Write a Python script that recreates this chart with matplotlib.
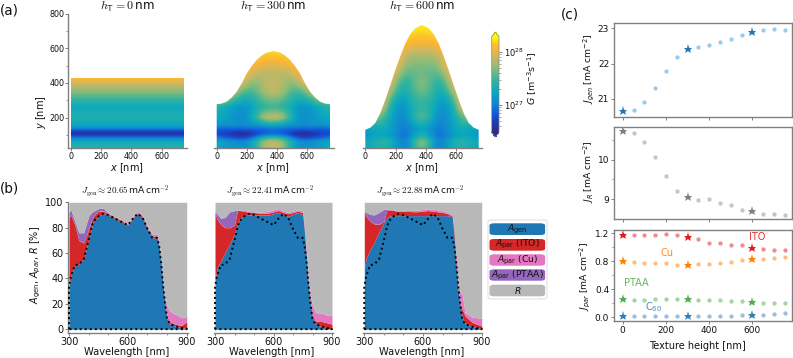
import numpy as np
import matplotlib
matplotlib.use("Agg")
import matplotlib.pyplot as plt
from matplotlib.colors import LinearSegmentedColormap, LogNorm
from matplotlib.cm import ScalarMappable
from matplotlib.patches import Polygon, FancyBboxPatch
from matplotlib.ticker import MultipleLocator, FixedLocator

W_PX, H_PX = 793, 358

# ---------- (a) generation maps: log10(G), bottom row first, x = 0..375 (mirror image to 750)
surface_x = [0, 33, 66, 99, 132, 166, 199, 232, 265, 298, 331, 375]
surface_300 = [277, 281, 292, 316, 349, 398, 455, 497, 533, 558, 575, 584]
surface_600 = [130, 142, 169, 226, 302, 388, 475, 555, 628, 682, 715, 734]
flat_top = 428

flat_y = [25, 60, 85, 100, 110, 120, 135, 160, 200, 260, 300, 350, 400, 428]
flat_G = [27.4, 27.3, 27.0, 26.65, 26.5, 26.68, 27.02, 27.25, 27.36, 27.25, 27.45, 27.7, 27.95, 28.12]

tex300_x = [0, 60, 120, 170, 220, 270, 320, 375]
tex300_y = [25, 60, 85, 105, 135, 160, 200, 260, 300, 350, 400, 450, 500, 550, 600]
tex300_G = [
    [27.25, 27.15, 27.1, 27.05, 27.15, 27.45, 27.8, 27.9],
    [27.25, 27.2, 27.1, 27.05, 27.15, 27.45, 27.8, 27.9],
    [27.0, 26.85, 26.8, 26.75, 26.85, 27.1, 27.4, 27.5],
    [26.72, 26.68, 26.52, 26.42, 26.52, 26.72, 26.85, 26.9],
    [26.9, 26.85, 26.9, 26.9, 26.9, 26.9, 26.9, 26.95],
    [27.15, 27.12, 27.1, 27.05, 27.1, 27.15, 27.25, 27.35],
    [27.28, 27.2, 27.1, 27.05, 27.15, 27.5, 27.85, 27.9],
    [27.4, 27.3, 27.15, 27.1, 27.15, 27.35, 27.45, 27.5],
    [27.7, 27.75, 27.45, 27.3, 27.3, 27.45, 27.6, 27.65],
    [28.0, 28.05, 27.9, 27.6, 27.5, 27.6, 27.8, 27.9],
    [28.1, 28.1, 28.1, 28.0, 27.75, 27.7, 27.85, 27.9],
    [28.1, 28.1, 28.1, 28.1, 28.0, 27.85, 27.85, 27.85],
    [28.1, 28.1, 28.1, 28.1, 28.1, 28.05, 28.0, 27.98],
    [28.2, 28.2, 28.2, 28.2, 28.2, 28.2, 28.12, 28.14],
    [28.29, 28.29, 28.29, 28.29, 28.29, 28.29, 28.29, 28.29],
]

tex600_x = [0, 60, 120, 170, 215, 265, 300, 335, 375]
tex600_y = [25, 60, 100, 135, 160, 200, 260, 300, 350, 400, 450, 500, 550, 600, 650, 700, 750]
tex600_G = [
    [27.25, 27.3, 27.4, 27.3, 27.1, 26.95, 27.15, 27.5, 27.65],
    [27.25, 27.35, 27.45, 27.35, 27.12, 26.98, 27.2, 27.55, 27.75],
    [27.1, 27.2, 27.25, 27.15, 27.0, 26.9, 27.05, 27.25, 27.4],
    [27.2, 27.25, 27.3, 27.2, 27.05, 26.95, 27.05, 27.15, 27.25],
    [27.35, 27.4, 27.4, 27.2, 27.05, 26.98, 27.12, 27.25, 27.35],
    [27.6, 27.8, 27.5, 27.25, 27.08, 27.02, 27.25, 27.45, 27.6],
    [27.9, 28.0, 27.95, 27.3, 27.12, 27.12, 27.3, 27.4, 27.5],
    [28.0, 28.05, 28.05, 27.5, 27.22, 27.18, 27.38, 27.45, 27.5],
    [28.05, 28.05, 28.05, 27.8, 27.42, 27.28, 27.48, 27.55, 27.65],
    [28.05, 28.05, 28.05, 28.0, 27.6, 27.38, 27.5, 27.6, 27.72],
    [28.05, 28.05, 28.05, 28.05, 27.85, 27.55, 27.58, 27.6, 27.65],
    [28.05, 28.05, 28.05, 28.05, 28.05, 27.72, 27.68, 27.65, 27.68],
    [28.1, 28.1, 28.1, 28.1, 28.1, 27.88, 27.8, 27.78, 27.82],
    [28.1, 28.1, 28.1, 28.1, 28.1, 28.05, 28.0, 27.95, 28.0],
    [28.15, 28.15, 28.15, 28.15, 28.15, 28.15, 28.15, 28.1, 28.12],
    [28.25, 28.25, 28.25, 28.25, 28.25, 28.25, 28.25, 28.22, 28.22],
    [28.29, 28.29, 28.29, 28.29, 28.29, 28.29, 28.29, 28.29, 28.29],
]

map_titles = ["0", "300", "600"]

# ---------- (b) cumulative absorption curves [%]
wavelength = [300, 310, 330, 350, 375, 400, 415, 425, 450, 475, 500, 525, 550, 575, 600, 625, 650,
              675, 700, 725, 750, 760, 770, 780, 790, 800, 815, 850, 875, 900]

gen_0 = [33, 42, 50.5, 51, 55, 70, 80, 85, 89, 91, 90, 88, 86, 84, 82, 87, 91, 88, 79, 72, 72, 65, 52, 34, 20, 8, 4, 2, 1, 0.5]
ito_0 = [88, 90, 82, 70, 68, 78, 86, 89, 93, 93, 91, 89, 87, 85, 82.5, 88, 92, 89, 80, 73.5, 73.5, 66, 53, 35, 21, 10, 5.5, 3.5, 3, 6]
cu_0 = [88.1, 90.1, 82.1, 70.1, 68.1, 78.1, 86.1, 89.1, 93.1, 93.5, 91.3, 89.3, 87.5, 85.5, 83.2, 89, 93, 90, 81, 75, 75, 67.5, 55, 37, 25, 18, 14, 11, 9, 10]
ptaa_0 = [92, 94, 85, 76, 76, 89, 92, 93, 95, 95.5, 91.5, 89.5, 87.7, 85.6, 83.3, 89.1, 93.1, 90.1, 81.1, 75.1, 75.1, 67.6, 55.1, 37.1, 25.1, 18.1, 14.1, 11.1, 9.1, 10.1]

gen_300 = [37, 48, 54, 60, 67, 75, 83, 87, 89.5, 90, 90, 90, 90, 90, 91, 92, 90, 89, 90.5, 92, 90, 75, 55, 33, 20, 10, 4.5, 1.5, 0.7, 0]
ito_300 = [92, 87, 82.5, 80, 80, 82, 93.5, 93.5, 93, 92, 92, 91.5, 91.5, 91.5, 92.5, 93.5, 92, 91, 92, 93, 92, 77, 57, 35, 21, 11, 6.5, 6, 5, 4]
cu_300 = [92.1, 87.1, 82.6, 80.1, 80.1, 82.1, 93.7, 93.7, 93.2, 92.5, 92.3, 92, 92.3, 92.8, 94, 95, 93, 92, 93, 94, 93, 78, 59, 40, 26, 19, 13, 12.5, 11, 10.5]
ptaa_300 = [93, 91, 87.5, 88, 92.5, 93.5, 94, 94, 93.5, 93, 92.5, 92.2, 92.5, 93, 94.1, 95.1, 93.1, 92.1, 93.1, 94.1, 93.1, 78.1, 59.1, 40.1, 26.1, 19.1, 13.1, 12.6, 11.1, 10.6]

gen_600 = [48, 56, 63, 68, 76.5, 84, 88, 89, 89.5, 89.5, 89.5, 89.5, 89.5, 89.5, 89.5, 89.5, 89.5, 89.5, 89.5, 89.5, 88.5, 75, 55, 30, 18, 10.5, 4.5, 2.3, 1.7, 0.5]
ito_600 = [92, 89, 85, 83, 82.5, 85, 94, 94, 93.5, 93, 93, 92.8, 92.6, 92.6, 93, 93.5, 93, 92.5, 92, 91, 89, 70, 48, 32, 21, 16, 10.5, 5.5, 4, 2.6]
cu_600 = [92.1, 89.1, 85.1, 83.1, 82.7, 85.1, 94.1, 94.1, 93.8, 93.5, 93.5, 93.5, 93.5, 93.7, 94.3, 94.7, 94.5, 94, 93.2, 92.2, 90, 72, 52, 36, 29, 28, 13, 9.5, 9, 8.5]
ptaa_600 = [93, 92, 90.5, 90, 92, 94.5, 94.5, 94.5, 94, 93.6, 93.6, 93.6, 93.6, 93.8, 94.4, 94.8, 94.6, 94.1, 93.3, 92.3, 90.1, 72.1, 52.1, 36.1, 29.1, 28.1, 13.1, 9.6, 9.1, 8.6]

jgen_titles = ["20.65", "22.41", "22.88"]
legend_labels = ["$A_{\\mathrm{gen}}$", "$A_{\\mathrm{par}}$ (ITO)", "$A_{\\mathrm{par}}$ (Cu)",
                 "$A_{\\mathrm{par}}$ (PTAA)", "$R$"]

# ---------- (c) currents vs. texture height
height = [0, 50, 100, 150, 200, 250, 300, 350, 400, 450, 500, 550, 600, 650, 700, 750]
star_heights = [0, 300, 600]
j_gen = [20.65, 20.7, 20.91, 21.3, 21.78, 22.18, 22.41, 22.48, 22.53, 22.6, 22.71, 22.8, 22.88, 22.95, 22.98, 22.95]
j_r = [10.75, 10.68, 10.47, 10.08, 9.6, 9.21, 9.04, 8.98, 9.0, 8.9, 8.84, 8.71, 8.70, 8.62, 8.62, 8.6]
j_ito = [1.18, 1.175, 1.175, 1.185, 1.19, 1.18, 1.155, 1.12, 1.065, 1.065, 1.04, 1.04, 0.995, 0.98, 0.965, 0.965]
j_cu = [0.8, 0.79, 0.78, 0.77, 0.77, 0.755, 0.755, 0.76, 0.765, 0.775, 0.795, 0.82, 0.83, 0.84, 0.85, 0.86]
j_ptaa = [0.255, 0.25, 0.25, 0.26, 0.26, 0.26, 0.26, 0.25, 0.24, 0.24, 0.23, 0.23, 0.215, 0.21, 0.205, 0.2]
j_c60 = [0.02, 0.02, 0.02, 0.02, 0.02, 0.02, 0.02, 0.02, 0.02, 0.02, 0.02, 0.025, 0.03, 0.035, 0.05, 0.06]

# ---------- style
GRAY = "#808080"
TXT = "#111111"
plt.rcParams.update({"font.family": "DejaVu Sans", "axes.edgecolor": GRAY, "xtick.color": GRAY,
                     "ytick.color": GRAY, "xtick.labelcolor": TXT, "ytick.labelcolor": TXT,
                     "axes.labelcolor": TXT, "text.color": TXT, "axes.linewidth": 1.0})

parula = LinearSegmentedColormap.from_list("parula_like", [
    (0.00, "#2f2a87"), (0.12, "#1c3fc0"), (0.20, "#0f5cdd"), (0.30, "#1187d0"), (0.42, "#0aa8c0"),
    (0.55, "#35b49c"), (0.68, "#8fbc78"), (0.80, "#d0b860"), (0.87, "#f8b438"), (0.93, "#fdc62a"),
    (1.00, "#f9fb0e")])
parula.set_under("#2f2a87")
parula.set_over("#f9fb0e")
norm = LogNorm(10 ** 26.48, 10 ** 28.29)

fig = plt.figure(figsize=(W_PX / 100, H_PX / 100), dpi=100)


def axes_px(left, top, right, bottom):
    return fig.add_axes([left / W_PX, 1 - bottom / H_PX, (right - left) / W_PX, (bottom - top) / H_PX])


def fig_text(px, py, s, **kw):
    kw.setdefault("ha", "center")
    kw.setdefault("va", "center")
    return fig.text(px / W_PX, 1 - py / H_PX, s, **kw)


def render_field(xs, ys, z, sx=22.0, sy=7.0):
    """Resample the read-off table to a display raster and soften it, as an image filter would."""
    xf = np.arange(0, 751, 3.0)
    yf = np.arange(25, 802, 3.0)
    along_x = np.array([np.interp(xf, xs, row) for row in z])
    field = np.array([np.interp(yf, ys, col) for col in along_x.T]).T
    for axis, sig in ((1, sx), (0, sy)):
        r = int(3 * sig / 3.0)
        k = np.exp(-0.5 * (np.arange(-r, r + 1) * 3.0 / sig) ** 2)
        k /= k.sum()
        pad = [(0, 0), (0, 0)]
        pad[axis] = (r, r)
        padded = np.pad(field, pad, mode="edge")
        field = np.apply_along_axis(lambda v: np.convolve(v, k, mode="valid"), axis, padded)
    return field


# ---------- panel (a)
full_sx = np.array(surface_x + [750 - v for v in surface_x[-2::-1]], float)
maps = [
    ([0, 375], flat_y, [[g, g] for g in flat_G], [flat_top] * len(surface_x), 68.3, 187.0, 71.0),
    (tex300_x, tex300_y, tex300_G, surface_300, 213.5, 334.0, 216.7),
    (tex600_x, tex600_y, tex600_G, surface_600, 362.5, 481.7, 365.3),
]
px_per_nm = 0.1512
for i, (xs, ys, zz, surf, l, r, x0) in enumerate(maps):
    ax = axes_px(l, 13.5, r, 148)
    zz = np.array(zz)
    full_z = np.hstack([zz, zz[:, -2::-1]])
    full_x = np.array(list(xs) + [750 - v for v in xs[-2::-1]], float)
    field = render_field(full_x, np.array(ys, float), full_z)
    img = ax.imshow(10 ** field, origin="lower", extent=(-1.5, 751.5, 23.5, 803.5), aspect="auto",
                    cmap=parula, norm=norm, interpolation="bilinear")
    full_s = np.array(list(surf) + list(surf[-2::-1]), float)
    poly = Polygon(np.column_stack([np.r_[0, full_sx, 750], np.r_[25, full_s, 25]]),
                   closed=True, transform=ax.transData, fc="none", ec="none")
    ax.add_patch(poly)
    img.set_clip_path(poly)
    ax.set_xlim((l - x0) / px_per_nm, (r - x0) / px_per_nm)
    ax.set_ylim(25, 800)
    ax.set_xticks([0, 200, 400, 600])
    ax.tick_params(axis="both", labelsize=5.8, length=2.0, width=0.7, pad=1.0)
    for s in ["top", "right"]:
        ax.spines[s].set_visible(False)
    if i == 0:
        ax.set_yticks([200, 400, 600, 800])
        ax.yaxis.set_minor_locator(MultipleLocator(100))
        ax.tick_params(axis="y", which="minor", length=1.3, width=0.6)
    else:
        ax.spines["left"].set_visible(False)
        ax.set_yticks([])
    fig_text((l + r) / 2 - 0.5, 168, "$x$ [nm]", fontsize=7.0)
    fig_text(x0 + 56.5, 6.5, "$h_{\\mathsf{T}}=%s\\,$nm" % map_titles[i], fontsize=8.6, math_fontfamily="cm")
fig_text(41, 112, "$y$ [nm]", fontsize=7.0, rotation=90)

# colour bar
cax = axes_px(491.7, 32, 499, 137)
cb = fig.colorbar(ScalarMappable(norm=norm, cmap=parula), cax=cax, extend="both", extendfrac=0.05)
cb.outline.set_edgecolor(GRAY)
cb.outline.set_linewidth(0.5)
cax.tick_params(which="major", labelsize=6.0, length=2.2, width=0.7, pad=1.2)
cax.tick_params(which="minor", length=1.2, width=0.5)
fig_text(532, 78, "$G$ [m$^{-3}$s$^{-1}$]", fontsize=6.8, rotation=90)

# ---------- panel (b)
stack_colors = ["#1f77b4", "#d62728", "#e377c2", "#9467bd", "#b8b8b8"]
spectra = [(gen_0, ito_0, cu_0, ptaa_0), (gen_300, ito_300, cu_300, ptaa_300), (gen_600, ito_600, cu_600, ptaa_600)]
for i, (curves, l, r) in enumerate(zip(spectra, [69.0, 215.0, 364.3], [186.7, 332.0, 481.7])):
    sc = (r - l) / 600
    ax = axes_px(l - 1.0, 202.3, r + 0.8, 333)
    lower = np.zeros(len(wavelength))
    for c, col in zip(list(curves) + [[100] * len(wavelength)], stack_colors):
        ax.fill_between(wavelength, lower, c, color=col, lw=0)
        lower = np.array(c, float)
    ax.plot([300] + wavelength + [900, 300], [0] + gen_0 + [0, 0], color="black", ls=(0, (1, 1.6)), lw=1.4,
            clip_on=False, zorder=5)
    ax.set_xlim(300 - 1.0 / sc, 900 + 0.8 / sc)
    ax.set_ylim(-3, 100)
    ax.set_xticks([300, 600, 900])
    ax.xaxis.set_minor_locator(FixedLocator([400, 500, 700, 800]))
    ax.tick_params(axis="x", which="minor", length=1.3, width=0.6)
    ax.tick_params(axis="both", which="major", labelsize=6.9, length=2.2, width=0.7, pad=1.0)
    for s in ["top", "right"]:
        ax.spines[s].set_visible(False)
    if i == 0:
        ax.set_yticks([0, 20, 40, 60, 80, 100])
    else:
        ax.spines["left"].set_visible(False)
        ax.set_yticks([])
    fig_text((l + r) / 2 - 1.5, 352, "Wavelength [nm]", fontsize=7.1)
    fig_text((l + r) / 2 - 3, 191.5, "$J_{\\mathrm{gen}}\\approx %s\\,$mA$\\,$cm$^{-2}$" % jgen_titles[i],
             fontsize=6.6, math_fontfamily="cm")
fig_text(36, 265, "$A_{\\mathrm{gen}}$, $A_{par}$, $R$ [%]", fontsize=6.9, rotation=90)

# legend drawn as labelled rounded bars
fig.add_artist(FancyBboxPatch((488 / W_PX, 1 - 299 / H_PX), 59 / W_PX, 79 / H_PX, transform=fig.transFigure,
                              boxstyle="round,pad=0,rounding_size=0.004", fc="white", ec="#dddddd", lw=0.7))
for lab, col, (t, b) in zip(legend_labels, stack_colors,
                            [(223.3, 235), (239, 250.7), (254.3, 265.7), (269.3, 280.7), (284.7, 296.3)]):
    fig.add_artist(FancyBboxPatch((489.5 / W_PX, 1 - b / H_PX), 55.6 / W_PX, (b - t) / H_PX,
                                  transform=fig.transFigure,
                                  boxstyle="round,pad=0,rounding_size=0.006", fc=col, ec="none"))
    fig_text(517.3, (t + b) / 2, lab, fontsize=6.7)

# ---------- panel (c)
def dots(ax, y, col, star=None, alpha=0.5):
    ax.plot(height, y, "o", color=col, ms=3.1, alpha=alpha, mew=0)
    ys = [y[height.index(h)] for h in star_heights]
    ax.plot(star_heights, ys, "*", color=star or col, ms=6.6, mew=0)


RED, ORANGE, GREEN, BLUE = "#e41a1c", "#ff7f00", "#4daf4a", "#377eb8"
xl = (622.7 - 614.3) / -0.216, (792.3 - 622.7) / 0.216

ax1 = axes_px(614.3, 23.3, 792.3, 117)
dots(ax1, j_gen, "#3a9bd5", "#1f77b4")
ax1.set_ylim(20.49, 23.14)
ax1.set_yticks([21, 22, 23])

ax2 = axes_px(614.3, 126.7, 792.3, 219)
dots(ax2, j_r, "#8c8c8c", "#7f7f7f")
ax2.set_ylim(8.49, 10.85)
ax2.set_yticks([9, 10])
ax2.yaxis.set_minor_locator(FixedLocator([9.5, 10.5]))

ax3 = axes_px(614.3, 230, 792.3, 320.7)
for series, col in [(j_ito, RED), (j_cu, ORANGE), (j_ptaa, GREEN), (j_c60, BLUE)]:
    dots(ax3, series, col)
ax3.set_ylim(-0.05, 1.25)
ax3.set_yticks([0, 0.4, 0.8, 1.2])
ax3.set_yticklabels(["0.0", "0.4", "0.8", "1.2"])
ax3.yaxis.set_minor_locator(FixedLocator([0.2, 0.6, 1.0]))

for ax in (ax1, ax2, ax3):
    ax.set_xlim(*xl)
    ax.set_xticks([0, 200, 400, 600])
    ax.tick_params(axis="both", which="major", labelsize=6.5, length=2.2, width=0.7, pad=1.5)
    ax.tick_params(axis="both", which="minor", length=1.3, width=0.6)
ax1.set_xticklabels([])
ax2.set_xticklabels([])
ax3.set_xticklabels(["0", "200", "400", "600"])

fig_text(589, 69, "$J_{gen}$ [mA cm$^{-2}$]", fontsize=6.7, rotation=90)
fig_text(589, 172, "$J_{R}$ [mA cm$^{-2}$]", fontsize=6.7, rotation=90)
fig_text(585, 277, "$J_{par}$ [mA cm$^{-2}$]", fontsize=6.7, rotation=90)
fig_text(697, 346, "Texture height [nm]", fontsize=7.0)

fig_text(757, 237, "ITO", color=RED, fontsize=7, alpha=0.9)
fig_text(667, 253.5, "Cu", color=ORANGE, fontsize=7, alpha=0.9)
fig_text(636, 283, "PTAA", color=GREEN, fontsize=7, alpha=0.9)
fig_text(654, 307.5, "C$_{60}$", color=BLUE, fontsize=7, alpha=0.9)

# panel letters
fig_text(0, 10, "(a)", fontsize=9.8, ha="left")
fig_text(0, 188, "(b)", fontsize=9.8, ha="left")
fig_text(561, 15, "(c)", fontsize=9.8, ha="left")

fig.savefig("out.png", dpi=100)
